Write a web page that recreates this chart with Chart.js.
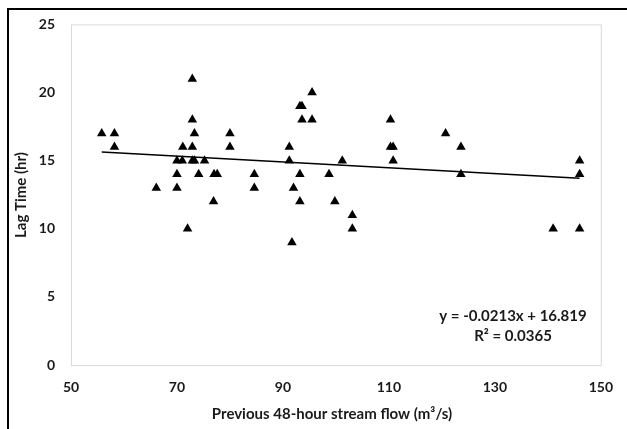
<!DOCTYPE html>
<html>
<head>
<meta charset="utf-8">
<script src="https://cdn.jsdelivr.net/npm/chart.js@4"></script>
<style>
html,body{margin:0;padding:0;background:#fff;}
#wrap{width:627px;height:429px;position:relative;}
</style>
</head>
<body>
<div id="wrap"><canvas id="c" width="627" height="429"></canvas></div>
<script>
// Data
const flowValues = [55.8,58.2,58.2,66.1,70.0,70.0,70.0,71.0,71.1,72.0,72.9,72.9,73.3,72.9,72.9,73.3,75.2,74.1,77.0,77.6,76.9,80.0,80.0,84.6,84.6,91.2,91.2,92.0,93.2,93.2,91.7,93.2,93.6,93.6,95.5,95.5,98.7,99.8,101.2,103.1,103.1,110.3,110.3,110.8,110.8,120.7,123.6,123.6,141.0,146.0,146.0,146.0];
const lagValues  = [17,17,16,13,15,14,13,15,16,10,21,18,17,16,15,15,15,14,14,14,12,17,16,14,13,16,15,13,14,12,9,19,19,18,18,20,14,12,15,11,10,18,16,16,15,17,16,14,10,15,14,10];
const trendSlope = -0.0213;
const trendIntercept = 16.819;
const xTicks = [50,70,90,110,130,150];
const yTicks = [0,5,10,15,20,25];
const equationLines = ['y = -0.0213x + 16.819', 'R\u00B2 = 0.0365'];
const xTitle = 'Previous 48-hour stream flow (m\u00B3/s)';
const yTitle = 'Lag Time (hr)';

const scatterData = flowValues.map((x,i)=>({x:x, y:lagValues[i]}));
const xMin = Math.min(...flowValues), xMax = Math.max(...flowValues);
const trendData = [xMin, xMax].map(x=>({x:x, y:trendSlope*x+trendIntercept}));

const FONT = 'Lato, "Open Sans", sans-serif';
const TEXT = '#1a1a1a';

const decor = {
  id:'decor',
  beforeDraw(chart){
    const {ctx} = chart;
    ctx.save();
    ctx.fillStyle='#fff';
    ctx.fillRect(0,0,chart.width,chart.height);
    ctx.restore();
  },
  afterDraw(chart){
    const {ctx, chartArea:a} = chart;
    ctx.save();
    // plot border
    ctx.strokeStyle='#d9d9d9';
    ctx.lineWidth=1;
    ctx.strokeRect(a.left+0.5, a.top+0.5, a.right-a.left, a.bottom-a.top);
    // outer frame (top and left)
    ctx.strokeStyle='#000';
    ctx.lineWidth=2;
    ctx.beginPath();
    ctx.moveTo(8, 429);
    ctx.lineTo(8, 9);
    ctx.lineTo(627, 9);
    ctx.stroke();
    // titles
    ctx.fillStyle=TEXT;
    ctx.font='bold 15px '+FONT;
    ctx.textAlign='center';
    ctx.textBaseline='middle';
    ctx.fillText(xTitle, 332, 414);
    ctx.save();
    ctx.translate(21, 195);
    ctx.rotate(-Math.PI/2);
    ctx.fillText(yTitle, 0, 0);
    ctx.restore();
    // equation
    ctx.fillText(equationLines[0], 513, 316);
    ctx.fillText(equationLines[1], 513, 336);
    ctx.restore();
  }
};

new Chart(document.getElementById('c'), {
  type:'scatter',
  data:{
    datasets:[
      {
        label:'Lag time',
        data:scatterData,
        pointStyle:'triangle',
        pointRadius:5.5,
        pointHoverRadius:5.5,
        backgroundColor:'#000',
        borderColor:'#000',
        borderWidth:0,
        order:1
      },
      {
        type:'line',
        label:'Trend',
        data:trendData,
        borderColor:'#000',
        borderWidth:1.5,
        pointRadius:0,
        fill:false,
        order:2
      }
    ]
  },
  options:{
    responsive:false,
    animation:false,
    events:[],
    layout:{padding:{left:0,right:12,top:24,bottom:0}},
    plugins:{legend:{display:false}, tooltip:{enabled:false}},
    scales:{
      x:{
        type:'linear',
        min:50, max:150,
        afterBuildTicks(s){ s.ticks = xTicks.map(v=>({value:v})); },
        afterFit(s){ s.height = 64; },
        grid:{display:false, drawTicks:false},
        border:{display:false},
        ticks:{padding:14, color:TEXT, font:{family:FONT, size:14, weight:'bold'}, maxRotation:0}
      },
      y:{
        type:'linear',
        min:0, max:25,
        afterBuildTicks(s){ s.ticks = yTicks.map(v=>({value:v})); },
        afterFit(s){ s.width = 71; },
        grid:{display:false, drawTicks:false},
        border:{display:false},
        ticks:{padding:16, color:TEXT, font:{family:FONT, size:14, weight:'bold'}}
      }
    }
  },
  plugins:[decor]
});
</script>
</body>
</html>
